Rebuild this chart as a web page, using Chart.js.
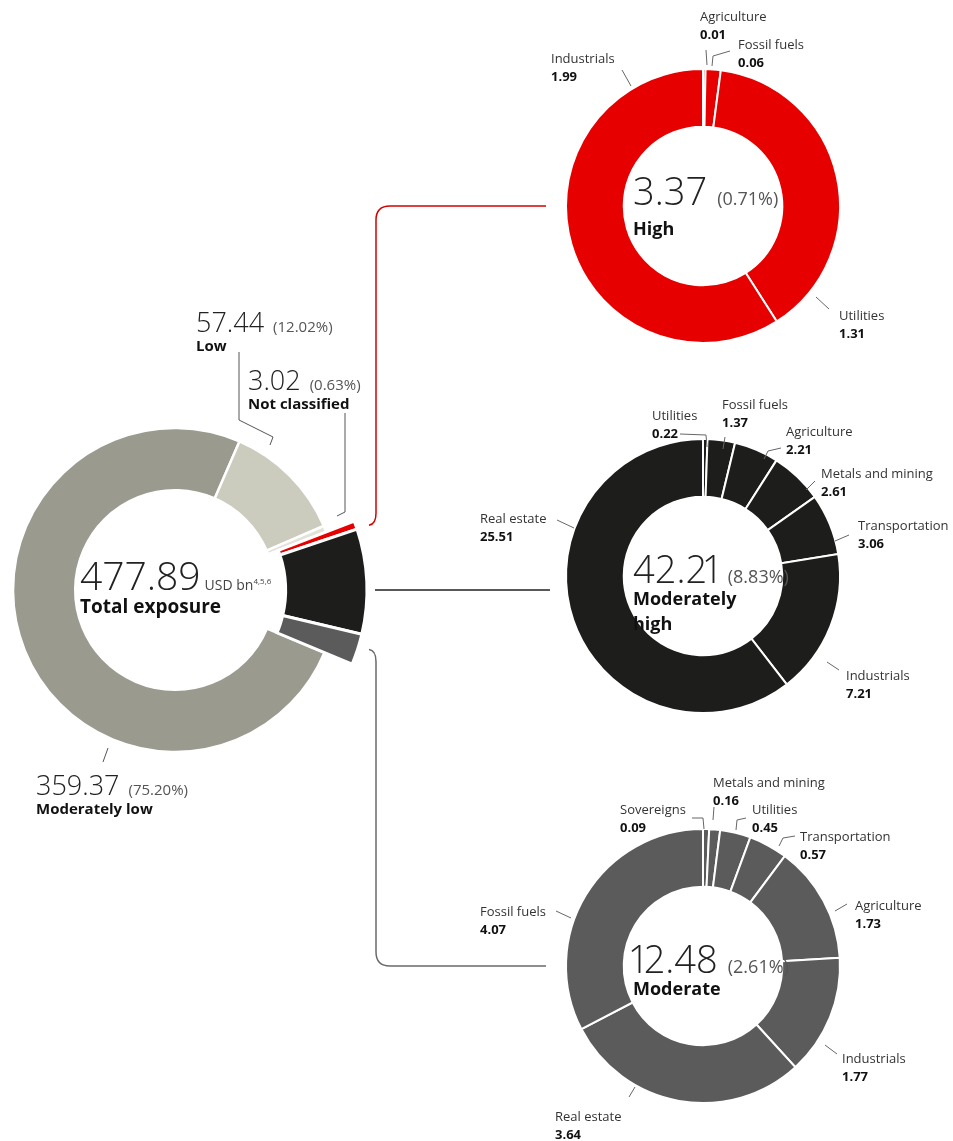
<!DOCTYPE html>
<html><head><meta charset="utf-8">
<script src="https://cdn.jsdelivr.net/npm/chart.js@4/dist/chart.umd.min.js"></script>
<style>
html,body{margin:0;padding:0;background:#fff;}
#page{position:relative;width:953px;height:1141px;overflow:hidden;font-family:"Open Sans","Noto Sans",sans-serif;color:#222;}
canvas.layer{position:absolute;left:0;top:0;}
.t{position:absolute;white-space:nowrap;}
.sec{font-size:13px;line-height:18px;color:#333;}
.sec b{display:block;font-weight:700;color:#111;}
.big{font-weight:300;color:#222;}
.big .one{display:inline-block;width:0.28em;text-indent:-0.14em;overflow:visible;}
.pct{font-weight:400;color:#555;}
.mainlbl{font-size:15px;font-weight:700;color:#111;line-height:20px;}
.ctrlbl{font-size:18px;font-weight:700;color:#111;line-height:25px;}
.unit{font-size:14px;color:#444;font-weight:400;margin-left:4px;}
.unit sup{font-size:8px;}
</style></head>
<body>
<div id="page">
<canvas id="cMain" class="layer" width="953" height="1141"></canvas>
<canvas id="cMainPop" class="layer" width="953" height="1141"></canvas>
<canvas id="cHigh" class="layer" width="953" height="1141"></canvas>
<canvas id="cModHigh" class="layer" width="953" height="1141"></canvas>
<canvas id="cModerate" class="layer" width="953" height="1141"></canvas>
<canvas id="cOver" class="layer" width="953" height="1141"></canvas>
</div>
<script>
// ---------------- DATA ----------------
const mainCategories = ["High", "Moderately high", "Moderate", "Moderately low", "Low", "Not classified"];
const mainValues = [3.37, 42.21, 12.48, 359.37, 57.44, 3.02];
const mainPercents = ["0.71%", "8.83%", "2.61%", "75.20%", "12.02%", "0.63%"];
const mainTotal = 477.89;

const highSectors = ["Agriculture", "Fossil fuels", "Utilities", "Industrials"];
const highValues = [0.01, 0.06, 1.31, 1.99];

const modHighSectors = ["Utilities", "Fossil fuels", "Agriculture", "Metals and mining", "Transportation", "Industrials", "Real estate"];
const modHighValues = [0.22, 1.37, 2.21, 2.61, 3.06, 7.21, 25.51];

const moderateSectors = ["Sovereigns", "Metals and mining", "Utilities", "Transportation", "Agriculture", "Industrials", "Real estate", "Fossil fuels"];
const moderateValues = [0.09, 0.16, 0.45, 0.57, 1.73, 1.77, 3.64, 4.07];

// ---------------- LAYOUT / STYLE ----------------
const W = 953, H = 1141;
const mainColors = ["#e60000", "#1d1d1b", "#5b5b5b", "#9a9a8f", "#cbcbbe", "#e2e2da"];
const exploded = ["High", "Moderately high", "Moderate"];
const CLEAR = "rgba(0,0,0,0)";

const highLayout = [
  {t:[-3,-190], l:[[3,-156],[4,-141]]},
  {t:[35,-162], l:[[9,-140],[10,-150],[27,-155]]},
  {t:[136,109], l:[[113,91],[126,103]]},
  {t:[-152,-148], l:[[-81,-136],[-72,-120]]}
];
const modHighLayout = [
  {t:[-51,-161], l:[[-23,-142],[3,-141],[4,-129]]},
  {t:[19,-172], l:[[22,-139],[20,-127]]},
  {t:[83,-145], l:[[61,-117],[65,-125],[78,-128]]},
  {t:[118,-103], l:[[103,-86],[112,-95]]},
  {t:[155,-51], l:[[132,-35],[146,-41]]},
  {t:[143,99], l:[[124,86],[136,94]]},
  {t:[-223,-58], l:[[-146,-56],[-129,-48]]}
];
const moderateLayout = [
  {t:[-83,-157], l:[[-11,-148],[0,-148],[1,-137]]},
  {t:[10,-184], l:[[11,-159],[10,-146]]},
  {t:[49,-157], l:[[33,-136],[34,-146],[43,-148]]},
  {t:[97,-130], l:[[76,-120],[80,-128],[92,-130]]},
  {t:[152,-61], l:[[132,-55],[144,-62]]},
  {t:[139,92], l:[[122,79],[134,88]]},
  {t:[-148,150], l:[[-74,131],[-68,121]]},
  {t:[-223,-55], l:[[-147,-55],[-132,-48]]}
];

const page = document.getElementById('page');

function makeDonut(id, cx, cy, half, o) {
  return new Chart(document.getElementById(id), {
    type: 'doughnut',
    data: {
      labels: o.labels,
      datasets: [{
        data: o.values,
        backgroundColor: o.colors,
        borderColor: '#ffffff',
        borderWidth: o.borderWidth,
        borderJoinStyle: 'miter',
        hoverOffset: 0
      }]
    },
    options: {
      responsive: false,
      animation: false,
      events: [],
      devicePixelRatio: 1,
      radius: o.radius,
      cutout: o.cutout,
      rotation: o.rotation || 0,
      layout: { padding: { left: cx - half, right: W - cx - half, top: cy - half, bottom: H - cy - half } },
      plugins: { legend: { display: false }, tooltip: { enabled: false } }
    }
  });
}

const MAIN_CX = 175, MAIN_CY = 590, MAIN_ROT = 69;
// base ring (highlighted slices left transparent)
const mainChart = makeDonut('cMain', MAIN_CX, MAIN_CY, 175, {
  labels: mainCategories, values: mainValues,
  colors: mainCategories.map((c, i) => exploded.includes(c) ? CLEAR : mainColors[i]),
  radius: 162, cutout: 107, rotation: MAIN_ROT,
  borderWidth: mainCategories.map(c => exploded.includes(c) ? 0 : 2.5)
});
// highlighted slices drawn larger
const mainPop = makeDonut('cMainPop', MAIN_CX, MAIN_CY, 175, {
  labels: mainCategories, values: mainValues,
  colors: mainCategories.map((c, i) => exploded.includes(c) ? mainColors[i] : CLEAR),
  radius: 192, cutout: 100, rotation: MAIN_ROT,
  borderWidth: mainCategories.map(c => exploded.includes(c) ? 3 : 0)
});
const highChart = makeDonut('cHigh', 703, 206, 160, {
  labels: highSectors, values: highValues, colors: highValues.map(() => mainColors[0]),
  radius: 137, cutout: 92, borderWidth: 2
});
const modHighChart = makeDonut('cModHigh', 703, 576, 160, {
  labels: modHighSectors, values: modHighValues, colors: modHighValues.map(() => mainColors[1]),
  radius: 137, cutout: 92, borderWidth: 2
});
const moderateChart = makeDonut('cModerate', 703, 966, 160, {
  labels: moderateSectors, values: moderateValues, colors: moderateValues.map(() => mainColors[2]),
  radius: 137, cutout: 92, borderWidth: 2
});

function centerOf(chart) {
  const a = chart.getDatasetMeta(0).data[0];
  return { x: a.x, y: a.y, R: a.outerRadius, r: a.innerRadius };
}

function addText(html, x, y, cls, style) {
  const d = document.createElement('div');
  d.className = 't ' + (cls || '');
  d.innerHTML = html;
  d.style.left = x + 'px';
  d.style.top = y + 'px';
  if (style) d.style.cssText += ';' + style;
  page.appendChild(d);
  return d;
}
// narrower "1" glyphs as in the original typeface
function num(v) { return v.toFixed(2).replace(/1/g, '<span class="one">1</span>'); }

const ov = document.getElementById('cOver').getContext('2d');
function poly(c, pts, color, w) {
  ov.beginPath();
  pts.forEach((p, i) => { const X = c.x + p[0], Y = c.y + p[1]; if (i) ov.lineTo(X, Y); else ov.moveTo(X, Y); });
  ov.strokeStyle = color; ov.lineWidth = w || 1; ov.stroke();
}

// sector labels of the small donuts
function sectorLabels(chart, names, values, layout) {
  const c = centerOf(chart);
  names.forEach((n, i) => {
    const L = layout[i];
    addText(n + '<b>' + values[i].toFixed(2) + '</b>', c.x + L.t[0], c.y + L.t[1] - 9, 'sec');
    poly(c, L.l, '#666', 1);
  });
  return c;
}
const cH = sectorLabels(highChart, highSectors, highValues, highLayout);
const cMH = sectorLabels(modHighChart, modHighSectors, modHighValues, modHighLayout);
const cMo = sectorLabels(moderateChart, moderateSectors, moderateValues, moderateLayout);

// centre texts of the small donuts
function centreText(c, idx, titleLines, dyNum) {
  addText('<span class="big" style="font-size:38px">' + num(mainValues[idx]) + '</span><span class="pct" style="font-size:18px;margin-left:10px">(' + mainPercents[idx] + ')</span>',
    c.x - 70, c.y + dyNum - 26);
  titleLines.forEach((s, k) => addText(s, c.x - 70, c.y + 22 + k * 25 - 12.5, 'ctrlbl'));
}
centreText(cH, 0, ["High"], -16);
centreText(cMH, 1, ["Moderately", "high"], -8);
centreText(cMo, 2, ["Moderate"], -8);

// main donut texts
const cM = centerOf(mainChart);
const cP = centerOf(mainPop);
addText('<span class="big" style="font-size:39px">' + num(mainTotal) + '</span><span class="unit">USD bn<sup>4,5,6</sup></span>', cM.x - 95, cM.y - 15 - 27);
addText('Total exposure', cM.x - 95, cM.y + 16 - 12.5, 'ctrlbl', 'font-size:19px');

function mainLabel(idx, dx, dy) {
  addText('<span class="big" style="font-size:27px">' + num(mainValues[idx]) + '</span><span class="pct" style="font-size:15px;margin-left:9px">(' + mainPercents[idx] + ')</span>',
    cM.x + dx, cM.y + dy - 19);
  addText(mainCategories[idx], cM.x + dx, cM.y + dy + 23 - 10, 'mainlbl');
}
mainLabel(4, 21, -268);
mainLabel(5, 73, -210);
mainLabel(3, -139, 195);
poly(cM, [[64,-238],[64,-170],[98,-153],[95,-145]], '#555', 1);
poly(cM, [[170,-177],[170,-78],[162,-74]], '#555', 1);
poly(cM, [[-72,172],[-67,158]], '#555', 1);

// connectors from the highlighted slices of the main donut to the detail donuts
const arcs = mainPop.getDatasetMeta(0).data;
function outerPoint(i) {
  const a = arcs[i], mid = (a.startAngle + a.endAngle) / 2, rr = a.outerRadius;
  return { x: a.x + Math.cos(mid) * rr, y: a.y + Math.sin(mid) * rr };
}
const busX = cP.x + cP.R + 9;
const rc = 14;
function bracket(i, target, color, up) {
  const p = outerPoint(i);
  const endX = target.x - target.R - 20;
  const s = up ? -1 : 1;
  ov.beginPath();
  ov.moveTo(busX - 7, p.y);
  ov.quadraticCurveTo(busX, p.y + s * 1, busX, p.y + s * 12);
  ov.lineTo(busX, target.y - s * rc);
  ov.quadraticCurveTo(busX, target.y, busX + rc, target.y);
  ov.lineTo(endX, target.y);
  ov.strokeStyle = color; ov.lineWidth = 1.5; ov.stroke();
}
bracket(0, cH, '#d40000', true);
bracket(2, cMo, '#6a6a6a', false);
ov.beginPath();
ov.moveTo(busX - 1, cM.y);
ov.lineTo(cMH.x - cMH.R - 16, cM.y);
ov.strokeStyle = '#222'; ov.lineWidth = 1.5; ov.stroke();
</script>
</body></html>
